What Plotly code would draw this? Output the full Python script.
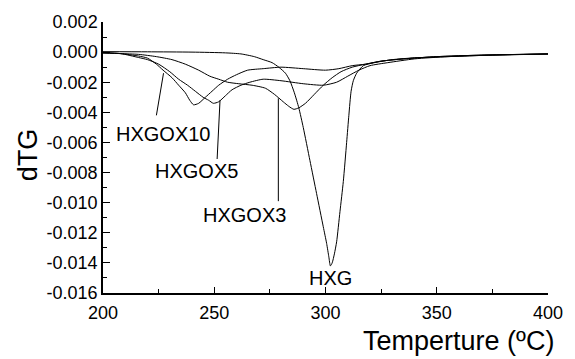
import plotly.graph_objects as go

# ---------------- data ----------------
hxg_t = [200, 220, 240, 255, 262, 268, 272, 276, 279, 282, 284, 286, 288, 290, 293, 296, 299,
         300.5, 301.5, 302.2, 303, 304, 305, 306.5, 308, 309.5, 310.5, 311.5, 312.5, 314, 317,
         322, 330, 340, 355, 370, 385, 400]
hxg_d = [0.00003, 0.00002, 0.0, -0.00005, -0.00012, -0.0003, -0.0005, -0.0007, -0.001, -0.0014,
         -0.0019, -0.0027, -0.0037, -0.0050, -0.0072, -0.0094, -0.0116,
         -0.0127, -0.0136, -0.0142, -0.0140, -0.0134, -0.0126, -0.0106, -0.0086, -0.0060,
         -0.0042, -0.0026, -0.0019, -0.0014, -0.0009,
         -0.0007, -0.0005, -0.00038, -0.0003, -0.00022, -0.00017, -0.00013]

ox10_t = [200, 208, 216, 220, 224, 227, 231, 234, 237, 239, 240.7, 243, 246, 249, 252, 256,
          260, 265, 272, 280, 290, 300, 306, 312, 318, 325, 335, 350, 370, 400]
ox10_d = [-0.00005, -0.0001, -0.00026, -0.0004, -0.0008, -0.0012, -0.0017, -0.0022, -0.0027,
          -0.0032, -0.0035, -0.0034, -0.0030, -0.0026, -0.0022, -0.0018,
          -0.0015, -0.0012, -0.0011, -0.0010, -0.0011, -0.0012, -0.0011, -0.0009, -0.0008,
          -0.0006, -0.00045, -0.0003, -0.0002, -0.00012]

ox5_t = [200, 208, 216, 220, 225, 230, 234, 238, 241.5, 245, 247.5, 249.6, 252, 255, 258, 262,
         266, 272, 280, 290, 299, 305, 310, 315, 320, 328, 340, 355, 375, 400]
ox5_d = [-0.00005, -0.0001, -0.00036, -0.0005, -0.0008, -0.0013, -0.0018, -0.0022, -0.0026,
         -0.0030, -0.0032, -0.0034, -0.0033, -0.0029, -0.0025, -0.0022, -0.0020, -0.0018,
         -0.0019, -0.0021, -0.0022, -0.0020, -0.0016, -0.0012, -0.0009, -0.0007, -0.00045,
         -0.0003, -0.0002, -0.00012]

ox3_t = [200, 208, 216, 224, 231, 237, 243, 248, 252, 256, 261, 267, 273, 277, 281, 283.5,
         285.8, 288, 291, 295, 299, 303, 307, 312, 318, 325, 335, 350, 370, 400]
ox3_d = [-0.00005, -0.0001, -0.00015, -0.0003, -0.0005, -0.0008, -0.0012, -0.0016, -0.0018,
         -0.0020, -0.0021, -0.0022, -0.0024, -0.0028, -0.0033, -0.0036, -0.0038, -0.0037,
         -0.0034, -0.0028, -0.0022, -0.0017, -0.0013, -0.0010, -0.0008, -0.0006, -0.00045,
         -0.0003, -0.0002, -0.00012]

series = [("HXG", hxg_t, hxg_d), ("HXGOX10", ox10_t, ox10_d),
          ("HXGOX5", ox5_t, ox5_d), ("HXGOX3", ox3_t, ox3_d)]

y_tickvals = [0.002, 0.0, -0.002, -0.004, -0.006, -0.008, -0.010, -0.012, -0.014, -0.016]
y_ticktext = ["0.002", "0.000", "-0.002", "-0.004", "-0.006", "-0.008", "-0.010",
              "-0.012", "-0.014", "-0.016"]
x_tickvals = [200, 250, 300, 350, 400]
x_ticktext = ["200", "250", "300", "350", "400"]

# label text positions and leader lines (data coordinates)
labels = ["HXGOX10", "HXGOX5", "HXGOX3", "HXG"]
label_x = [227.0, 241.8, 263.5, 302.2]
label_y = [-0.00541, -0.00788, -0.0108, -0.0150]
leader_x0 = [224.0, 251.3, 278.8, None]
leader_y0 = [-0.0042, -0.0071, -0.0099, None]
leader_x1 = [227.2, 252.6, 278.8, None]
leader_y1 = [-0.00140, -0.0032, -0.00307, None]

FONT = "Liberation Sans, Arial, sans-serif"

fig = go.Figure()
for name, t, d in series:
    fig.add_trace(go.Scatter(x=t, y=d, mode="lines", name=name,
                             line=dict(color="black", width=1, shape="spline", smoothing=0.6),
                             showlegend=False))

for i, lab in enumerate(labels):
    fig.add_annotation(x=label_x[i], y=label_y[i], xref="x", yref="y", text=lab,
                       xanchor="center", yanchor="middle",
                       showarrow=False, font=dict(family=FONT, size=20, color="black"))
    if leader_x0[i] is not None:
        fig.add_shape(type="line", xref="x", yref="y", x0=leader_x0[i], y0=leader_y0[i],
                      x1=leader_x1[i], y1=leader_y1[i], line=dict(color="black", width=1))

# axis titles as annotations
fig.add_annotation(text="dTG", xref="paper", yref="paper", x=-0.17, y=0.51,
                   xanchor="center", yanchor="middle", textangle=-90, showarrow=False,
                   font=dict(family=FONT, size=27, color="black"))
fig.add_annotation(text="Temperture (ºC)", xref="paper", yref="paper", x=1, xshift=8,
                   xanchor="right", y=-0.177, yanchor="middle", showarrow=False,
                   font=dict(family=FONT, size=27, color="black"))

fig.update_xaxes(range=[200, 400], tickvals=x_tickvals, ticktext=x_ticktext,
                 ticks="inside", ticklen=6, tickwidth=1, tickcolor="black",
                 ticklabelstandoff=3,
                 showline=True, linecolor="black", linewidth=1.5, showgrid=False, zeroline=False,
                 minor=dict(tickmode="linear", tick0=200, dtick=25, ticks="inside", ticklen=4,
                            tickcolor="black", tickwidth=1, showgrid=False),
                 tickfont=dict(family=FONT, size=18, color="black"))
fig.update_yaxes(range=[-0.016, 0.002], tickvals=y_tickvals, ticktext=y_ticktext,
                 ticks="inside", ticklen=7, tickwidth=1, tickcolor="black",
                 showline=True, linecolor="black", linewidth=1.5, showgrid=False, zeroline=False,
                 minor=dict(tickmode="linear", tick0=0, dtick=0.001, ticks="inside", ticklen=4,
                            tickcolor="black", tickwidth=1, showgrid=False),
                 tickfont=dict(family=FONT, size=18, color="black"))

fig.update_layout(width=575, height=359, margin=dict(l=103, r=20, t=16, b=66),
                  plot_bgcolor="white", paper_bgcolor="white", showlegend=False)

fig.write_html("out.html", config={"displayModeBar": False},
               post_script="document.body.style.margin='0';")
